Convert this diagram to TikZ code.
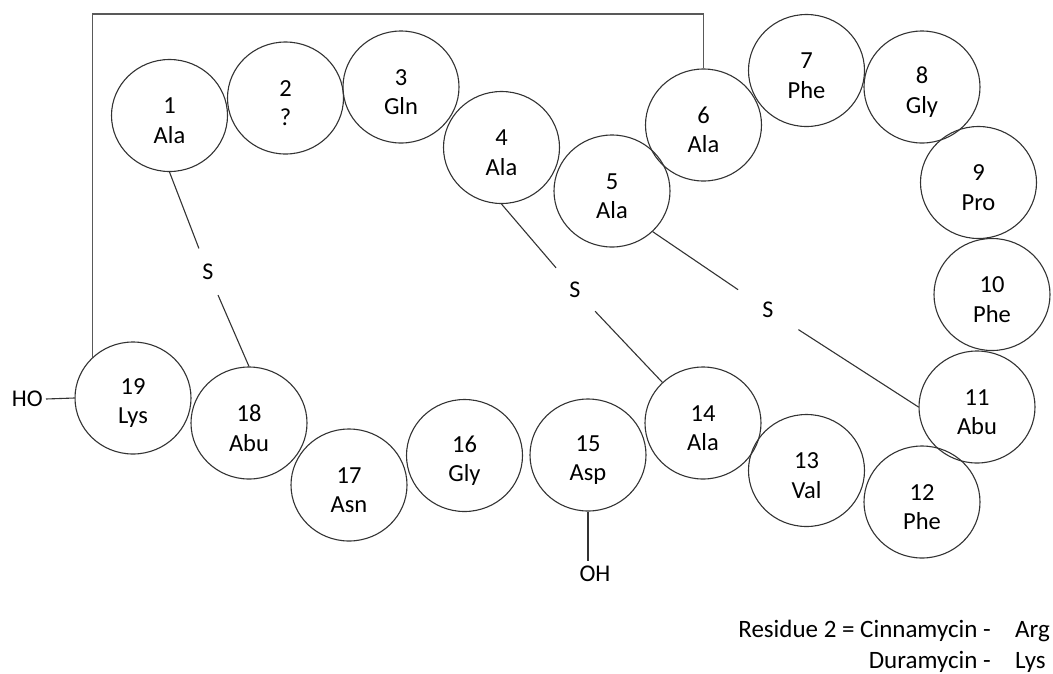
\documentclass[tikz,border=0pt]{standalone}
\usepackage{fontspec}
\setmainfont{Carlito}
\usetikzlibrary{shapes.geometric}
\newcommand\residue[4]{\node[res, label={[rlab]center:{#3\\#4}}] (#1) at (#2) {};}
\begin{document}
\begin{tikzpicture}[x=1pt, y=-1pt,
  res/.style={ellipse, draw=black!80, line width=1.1pt, minimum width=116pt, minimum height=112pt, inner sep=0pt},
  rlab/.style={align=center, inner sep=0pt, yshift=-5pt, font=\fontsize{24.5}{29.5}\selectfont},
  link/.style={draw=black!80, line width=1.1pt},
  frame/.style={draw=black!65, line width=1.4pt},
  sulfur/.style={circle, inner sep=0pt, font=\fontsize{24}{28}\selectfont},
  tag/.style={inner sep=3pt, font=\fontsize{24}{28}\selectfont},
  note/.style={inner sep=0pt, font=\fontsize{25}{30}\selectfont},
]
\useasboundingbox (0,0) rectangle (1053,673);

% peptide ring
\residue{c1}{169.5,115.5}{1}{Ala}
\residue{c2}{285.5,98}{2}{?}
\residue{c3}{401,87}{3}{Gln}
\residue{c4}{501.5,147.5}{4}{Ala}
\residue{c5}{612,191}{5}{Ala}
\residue{c6}{703.5,125}{6}{Ala}
\residue{c7}{806.5,70.5}{7}{Phe}
\residue{c8}{922,87}{8}{Gly}
\residue{c9}{978.5,182.5}{9}{Pro}
\residue{c10}{992,294.5}{10}{Phe}
\residue{c11}{977,407}{11}{Abu}
\residue{c12}{922,502}{12}{Phe}
\residue{c13}{806.5,470.5}{13}{Val}
\residue{c14}{703,423}{14}{Ala}
\residue{c15}{588,455}{15}{Asp}
\residue{c16}{464.5,455.5}{16}{Gly}
\residue{c17}{349,485}{17}{Asn}
\residue{c18}{249,423}{18}{Abu}
\residue{c19}{133,398}{19}{Lys}

% thioether bridges
\node[sulfur, minimum size=50pt] (s1) at (208,272) {S};
\node[sulfur, minimum size=58pt] (s2) at (575,290) {S};
\node[sulfur, minimum size=72pt] (s3) at (768,310) {S};
\draw[link] (c1.south) -- (s1);
\draw[link] (s1) -- (c18.north);
\draw[link] (c4.south) -- (s2);
\draw[link] (s2) -- (c14.135);
\draw[link] (c5.-45) -- (s3);
\draw[link] (s3) -- (c11.west);

% lysinoalanine bridge 6--19
\coordinate (ftop) at (0,14);
\draw[frame] (c6.north) |- (c19.135 |- ftop) -- (c19.135);

% termini
\node[tag, anchor=east] (ho) at (46,399) {HO};
\draw[link] (ho.east) -- (c19.west);
\node[tag, inner sep=5pt] (oh) at (595,574) {OH};
\draw[link] (c15.south) -- (c15.south |- oh.north);

% note on residue 2
\node[note, anchor=base east] (n1) at (991,637) {Residue 2 = Cinnamycin -};
\node[note, anchor=base west] (a1) at (1015,637) {Arg};
\node[note, anchor=base east] (n2) at (991,668) {Duramycin -};
\node[note, anchor=base west] (a2) at (1015,668) {Lys};
\end{tikzpicture}
\end{document}
